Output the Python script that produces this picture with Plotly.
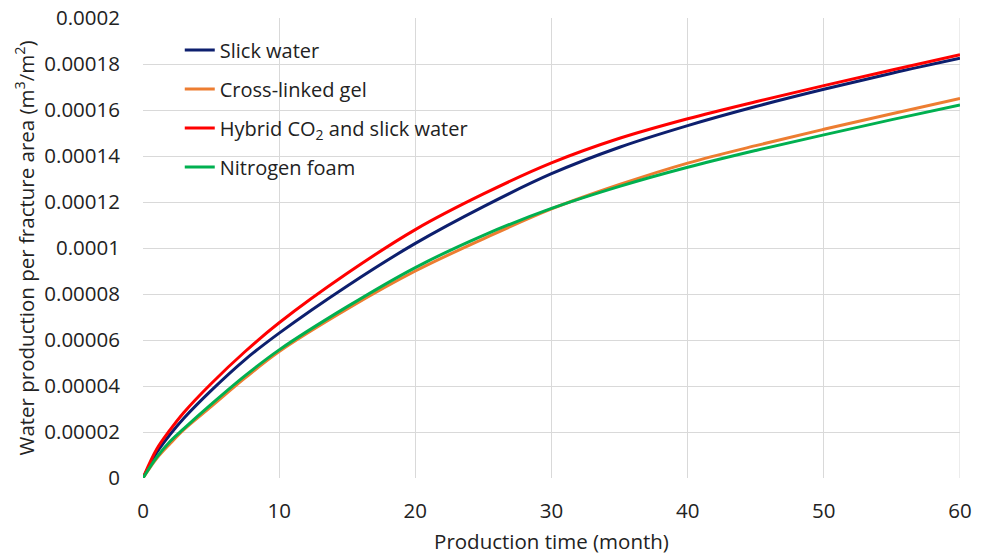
import plotly.graph_objects as go

# Production time (month)
months = [0, 1, 2, 3, 5, 7.5, 10, 15, 20, 25, 30, 35, 40, 45, 50, 55, 60]

# Cumulative water production per fracture area (m3/m2)
slick_water = [0, 0.0000110, 0.0000190, 0.0000260, 0.0000380, 0.0000515, 0.0000630,
               0.0000835, 0.0001020, 0.0001180, 0.0001323, 0.0001438, 0.0001532,
               0.0001615, 0.0001690, 0.0001760, 0.0001825]
cross_linked_gel = [0, 0.0000085, 0.0000150, 0.0000210, 0.0000310, 0.0000435, 0.0000550,
                    0.0000735, 0.0000900, 0.0001040, 0.0001170, 0.0001276, 0.0001369,
                    0.0001445, 0.0001516, 0.0001584, 0.0001650]
hybrid_co2 = [0, 0.0000125, 0.0000210, 0.0000285, 0.0000410, 0.0000550, 0.0000675,
              0.0000890, 0.0001080, 0.0001235, 0.0001370, 0.0001477, 0.0001562,
              0.0001636, 0.0001706, 0.0001774, 0.0001840]
nitrogen_foam = [0, 0.0000090, 0.0000160, 0.0000215, 0.0000320, 0.0000445, 0.0000557,
                 0.0000745, 0.0000915, 0.0001055, 0.0001172, 0.0001268, 0.0001351,
                 0.0001424, 0.0001492, 0.0001558, 0.0001622]

series_names = ["Slick water", "Cross-linked gel",
                "Hybrid CO<sub>2</sub> and slick water", "Nitrogen foam"]
series_values = [slick_water, cross_linked_gel, hybrid_co2, nitrogen_foam]
series_colors = ["#0d1f6e", "#ed7d31", "#ff0000", "#00b050"]

y_tick_vals = [0, 0.00002, 0.00004, 0.00006, 0.00008, 0.0001,
               0.00012, 0.00014, 0.00016, 0.00018, 0.0002]
y_tick_text = ["0", "0.00002", "0.00004", "0.00006", "0.00008", "0.0001",
               "0.00012", "0.00014", "0.00016", "0.00018", "0.0002"]
x_tick_vals = [0, 10, 20, 30, 40, 50, 60]

font_family = "Open Sans"
text_color = "#222222"
grid_color = "#d9d9d9"

fig = go.Figure()
for i, (name, vals, color) in enumerate(zip(series_names, series_values, series_colors)):
    fig.add_trace(go.Scatter(
        x=months, y=vals, name=name, mode="lines",
        line=dict(color=color, width=3, shape="spline", smoothing=1.0),
        legendgroup=f"g{i}",
    ))

fig.update_layout(
    width=983, height=555,
    margin=dict(l=143, r=23, t=18, b=77),
    paper_bgcolor="white", plot_bgcolor="white",
    font=dict(family=font_family, size=20, color=text_color),
    showlegend=True,
    legend=dict(
        x=0.045, y=0.973, xanchor="left", yanchor="top",
        bgcolor="rgba(255,255,255,0)",
        font=dict(family=font_family, size=20, color=text_color),
        tracegroupgap=10,
        itemwidth=30,
    ),
    xaxis=dict(
        range=[0, 60], tickvals=x_tick_vals, automargin=False,
        showgrid=True, gridcolor=grid_color, gridwidth=1,
        zeroline=False, showline=False, ticks="",
        tickfont=dict(size=20.5), ticklabelstandoff=18,
        title=dict(text="Production time (month)", font=dict(size=20.5), standoff=13),
    ),
    yaxis=dict(
        range=[0, 0.0002], tickvals=y_tick_vals, ticktext=y_tick_text, automargin=False,
        showgrid=True, gridcolor=grid_color, gridwidth=1,
        zeroline=False, showline=False, ticks="",
        tickfont=dict(size=20.5), ticklabelstandoff=22,
        title=dict(text="Water production per fracture area (m<sup>3</sup>/m<sup>2</sup>)",
                   font=dict(size=20.5), standoff=4),
    ),
)

# right edge gridline closes the plotting area
fig.add_shape(type="line", xref="x", yref="paper", x0=60, x1=60, y0=0, y1=1,
              line=dict(color=grid_color, width=1), layer="below")

fig.write_html("out.html")
